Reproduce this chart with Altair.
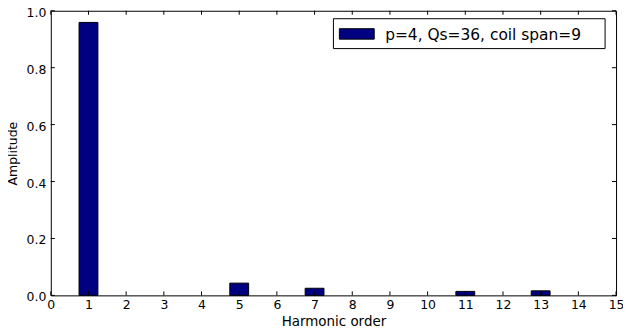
import altair as alt
import pandas as pd

# ---- data ----
harmonics = [1, 5, 7, 11, 13]
amplitudes = [0.959, 0.043, 0.025, 0.014, 0.016]
series_label = "p=4, Qs=36, coil span=9"
x_ticks = list(range(0, 16))
y_ticks = [0.0, 0.2, 0.4, 0.6, 0.8, 1.0]
bar_width = 0.5

bars_df = pd.DataFrame({"h": harmonics, "amp": amplitudes})
xt_df = pd.DataFrame({"t": x_ticks})
yt_df = pd.DataFrame({"t": y_ticks})
leg_df = pd.DataFrame({"label": [series_label]})

W, H = 568, 286
FONT = "DejaVu Sans"
NAVY = "#000080"

xscale = alt.Scale(domain=[0, 15], nice=False, zero=False)
yscale = alt.Scale(domain=[0, 1], nice=False)

x_axis = alt.Axis(values=x_ticks, format="d", title="Harmonic order",
                  labelPadding=3, labelFlush=False, titleY=30,
                  titleBaseline="alphabetic",
                  titleFontSize=13.5, labelFontSize=12.5)
y_axis = alt.Axis(values=y_ticks, format=".1f", title="Amplitude",
                  labelPadding=5, labelOffset=1.5, labelFlush=False,
                  titleX=-34, titleY=H / 2,
                  titleAngle=270, titleBaseline="alphabetic",
                  titleAlign="center",
                  titleFontSize=12.5, labelFontSize=12.5)

bars = alt.Chart(bars_df).transform_calculate(
    x0=f"datum.h - {bar_width / 2}", x1=f"datum.h + {bar_width / 2}"
).mark_rect(fill=NAVY, stroke="black", strokeWidth=1).encode(
    x=alt.X("x0:Q", scale=xscale, axis=x_axis),
    x2="x1:Q",
    y=alt.Y("amp:Q", scale=yscale, axis=y_axis),
    y2=alt.datum(0),
)

tick_len = 4
xt_bottom = alt.Chart(xt_df).mark_rule(color="black", strokeWidth=1).encode(
    x=alt.X("t:Q", scale=xscale, axis=x_axis), y=alt.value(H), y2=alt.value(H - tick_len))
xt_top = alt.Chart(xt_df).mark_rule(color="black", strokeWidth=1).encode(
    x=alt.X("t:Q", scale=xscale, axis=x_axis), y=alt.value(0), y2=alt.value(tick_len))
yt_left = alt.Chart(yt_df).mark_rule(color="black", strokeWidth=1).encode(
    y=alt.Y("t:Q", scale=yscale, axis=y_axis), x=alt.value(0), x2=alt.value(tick_len))
yt_right = alt.Chart(yt_df).mark_rule(color="black", strokeWidth=1).encode(
    y=alt.Y("t:Q", scale=yscale, axis=y_axis), x=alt.value(W), x2=alt.value(W - tick_len))

leg_box = alt.Chart(leg_df).mark_rect(fill="white", stroke="black", strokeWidth=1).encode(
    x=alt.value(W - 284), x2=alt.value(W - 11), y=alt.value(8), y2=alt.value(38))
leg_swatch = alt.Chart(leg_df).mark_rect(fill=NAVY, stroke="black", strokeWidth=1).encode(
    x=alt.value(W - 278), x2=alt.value(W - 243), y=alt.value(18), y2=alt.value(28.5))
leg_text = alt.Chart(leg_df).mark_text(
    align="left", baseline="alphabetic", fontSize=15.5, font=FONT, color="black"
).encode(x=alt.value(W - 232), y=alt.value(29), text="label:N")

chart = alt.layer(
    bars, xt_bottom, xt_top, yt_left, yt_right, leg_box, leg_swatch, leg_text
).properties(
    width=W, height=H,
    background="white",
    autosize=alt.AutoSizeParams(type="none"),
    padding={"left": 43, "top": 2, "right": 7, "bottom": 31},
).configure_view(
    stroke="black", strokeWidth=1
).configure_axis(
    grid=False, domain=False, ticks=False, tickSize=0,
    labelFont=FONT, titleFont=FONT, labelColor="black", titleColor="black",
    titleFontWeight="normal",
)

chart.save("out.html", embed_options={"renderer": "svg", "actions": False})
